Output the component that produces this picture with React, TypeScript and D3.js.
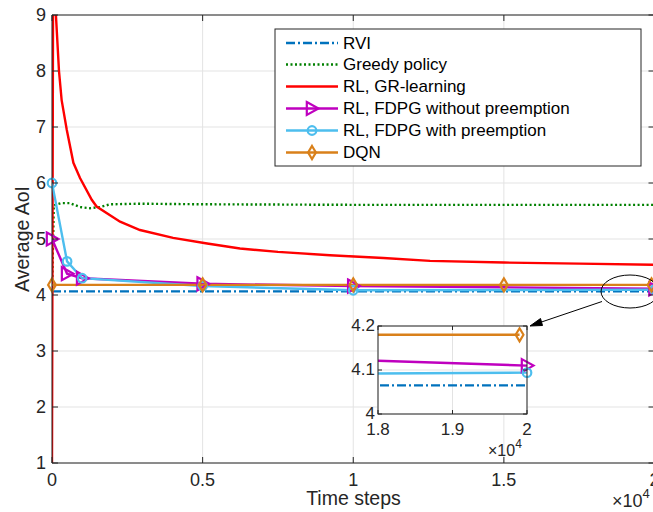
import React from "react";
import * as d3 from "d3";

// ---- data ----
const xTicks = [0, 5000, 10000, 15000, 20000];
const xTickLabels = ["0", "0.5", "1", "1.5", "2"];
const yTicks = [1, 2, 3, 4, 5, 6, 7, 8, 9];

const rviT = [0, 20000];
const rviV = [4.065, 4.065];

const greedyT = [0, 60, 300, 600, 930, 1260, 1600, 1930, 2920, 5000, 7500, 10000, 15000, 20000];
const greedyV = [4.0, 5.6, 5.64, 5.64, 5.57, 5.55, 5.57, 5.62, 5.63, 5.62, 5.615, 5.61, 5.61, 5.61];

const grT = [0, 40, 130, 232, 320, 490, 710, 930, 1320, 1480, 2260, 2920, 4020, 5150, 6240, 7500, 9230, 11000, 12550, 15000, 17500, 20000];
const grV = [1, 10.5, 9.0, 8.0, 7.48, 6.95, 6.36, 6.09, 5.7, 5.58, 5.31, 5.16, 5.02, 4.92, 4.83, 4.77, 4.71, 4.66, 4.61, 4.58, 4.56, 4.54];

const fdpgNoT = [0, 500, 1000, 5000, 10000, 15000, 20000];
const fdpgNoV = [5.0, 4.38, 4.3, 4.2, 4.16, 4.1375, 4.11];
const fdpgNoMarkers = [0, 500, 1000, 5000, 10000, 20000];

const fdpgPreT = [0, 500, 1000, 5000, 10000, 15000, 20000];
const fdpgPreV = [6.0, 4.6, 4.3, 4.16, 4.085, 4.089, 4.094];
const fdpgPreMarkers = [0, 500, 1000, 5000, 10000, 20000];

const dqnT = [0, 5000, 10000, 15000, 19900];
const dqnV = [4.18, 4.18, 4.18, 4.18, 4.18];

const insetXTicks = [18000, 19000, 20000];
const insetXTickLabels = ["1.8", "1.9", "2"];
const insetYTicks = [4, 4.1, 4.2];
const insetYTickLabels = ["4", "4.1", "4.2"];

const legendLabels = [
  "RVI",
  "Greedy policy",
  "RL, GR-learning",
  "RL, FDPG without preemption",
  "RL, FDPG with preemption",
  "DQN",
];

const C_RVI = "#0072BD";
const C_GREEDY = "#008000";
const C_GR = "#FF0000";
const C_NO = "#BF00BF";
const C_PRE = "#4DBEEE";
const C_DQN = "#D9801A";
const AX = "#262626";
const GRID = "#e3e3e3";
const FONT = "'Liberation Sans', Arial, Helvetica, sans-serif";
const LW = 2.4;

type Pt = [number, number];
const zip = (t: number[], v: number[]): Pt[] => t.map((x, i) => [x, v[i]]);

function Marker({ kind, x, y, color }: { kind: string; x: number; y: number; color: string }) {
  if (kind === "tri") {
    const s = 6.5;
    return (
      <path
        d={`M${x - s * 0.8},${y - s} L${x + s},${y} L${x - s * 0.8},${y + s} Z`}
        fill="none"
        stroke={color}
        strokeWidth={2.2}
      />
    );
  }
  if (kind === "circ") {
    return <circle cx={x} cy={y} r={4.3} fill="none" stroke={color} strokeWidth={2.2} />;
  }
  if (kind === "dia") {
    const s = 6.5;
    return (
      <path
        d={`M${x},${y - s} L${x + s * 0.6},${y} L${x},${y + s} L${x - s * 0.6},${y} Z`}
        fill="none"
        stroke={color}
        strokeWidth={2.2}
      />
    );
  }
  return null;
}

export default function App() {
  const W = 653, H = 512;
  const L = 52, R = 654.5, T = 15, B = 463;
  const x = d3.scaleLinear().domain([0, 20000]).range([L, R]);
  const y = d3.scaleLinear().domain([1, 9]).range([B, T]);

  const iL = 378, iR = 527, iT = 326, iB = 414;
  const xi = d3.scaleLinear().domain([18000, 20000]).range([iL, iR]);
  const yi = d3.scaleLinear().domain([4, 4.2]).range([iB, iT]);

  const mk = (sx: any, sy: any) => d3.line<Pt>().x((d) => sx(d[0])).y((d) => sy(d[1]));
  const lm = mk(x, y);
  const li = mk(xi, yi);

  const series = [
    { data: zip(rviT, rviV), color: C_RVI, dash: "9,3,2,3", marker: "", mpts: [] as number[] },
    { data: zip(greedyT, greedyV), color: C_GREEDY, dash: "2,2.5", marker: "", mpts: [] as number[] },
    { data: zip(grT, grV), color: C_GR, dash: "", marker: "", mpts: [] as number[] },
    { data: zip(fdpgNoT, fdpgNoV), color: C_NO, dash: "", marker: "tri", mpts: fdpgNoMarkers },
    { data: zip(fdpgPreT, fdpgPreV), color: C_PRE, dash: "", marker: "circ", mpts: fdpgPreMarkers },
    { data: zip(dqnT, dqnV), color: C_DQN, dash: "", marker: "dia", mpts: dqnT },
  ];

  const valAt = (data: Pt[], t: number) => {
    const ts = data.map((d) => d[0]);
    const vs = data.map((d) => d[1]);
    return d3.scaleLinear().domain(ts).range(vs)(t);
  };

  const legX0 = 275, legY0 = 29, legW = 366, legH = 137;
  const legRows = [43, 64.5, 86.5, 108.5, 130.5, 152.5];

  return (
    <svg
      width={W}
      height={H}
      style={{ position: "absolute", left: 0, top: 0, background: "#fff" }}
      fontFamily={FONT}
    >
      <defs>
        <clipPath id="mainclip">
          <rect x={L} y={T} width={R - L} height={B - T} />
        </clipPath>
        <clipPath id="insetclip">
          <rect x={iL} y={iT} width={iR - iL} height={iB - iT} />
        </clipPath>
      </defs>
      <rect x={0} y={0} width={W} height={H} fill="#fff" />

      {/* grid */}
      {xTicks.map((t) => (
        <line key={"gx" + t} x1={x(t)} x2={x(t)} y1={T} y2={B} stroke={GRID} strokeWidth={1} />
      ))}
      {yTicks.map((t) => (
        <line key={"gy" + t} x1={L} x2={R} y1={y(t)} y2={y(t)} stroke={GRID} strokeWidth={1} />
      ))}

      {/* series */}
      <g clipPath="url(#mainclip)">
        {series.map((s, i) => (
          <path
            key={"s" + i}
            d={lm(s.data) || ""}
            fill="none"
            stroke={s.color}
            strokeWidth={LW}
            strokeDasharray={s.dash || undefined}
          />
        ))}
      </g>
      {series.map((s, i) =>
        s.mpts.map((t) => (
          <Marker key={"m" + i + "_" + t} kind={s.marker} x={x(t)} y={y(valAt(s.data, t))} color={s.color} />
        ))
      )}

      {/* axes box */}
      <line x1={L} x2={R} y1={B} y2={B} stroke={AX} strokeWidth={1} />
      <line x1={L} x2={R} y1={T} y2={T} stroke={AX} strokeWidth={1} />
      <line x1={L} x2={L} y1={T} y2={B} stroke={AX} strokeWidth={1} />
      <line x1={R} x2={R} y1={T} y2={B} stroke={AX} strokeWidth={1} />
      {xTicks.map((t) => (
        <g key={"tx" + t}>
          <line x1={x(t)} x2={x(t)} y1={B} y2={B - 6} stroke={AX} />
          <line x1={x(t)} x2={x(t)} y1={T} y2={T + 6} stroke={AX} />
        </g>
      ))}
      {yTicks.map((t) => (
        <g key={"ty" + t}>
          <line x1={L} x2={L + 6} y1={y(t)} y2={y(t)} stroke={AX} />
          <line x1={R} x2={R - 6} y1={y(t)} y2={y(t)} stroke={AX} />
        </g>
      ))}
      {xTicks.map((t, i) => (
        <text key={"lx" + t} x={x(t)} y={485.5} textAnchor="middle" fontSize={18} fill={AX}>
          {xTickLabels[i]}
        </text>
      ))}
      {yTicks.map((t) => (
        <text key={"ly" + t} x={46} y={y(t)} dy="0.35em" textAnchor="end" fontSize={18} fill={AX}>
          {t}
        </text>
      ))}
      <text x={612} y={507} fontSize={18} fill={AX}>
        ×10
        <tspan dy={-9} fontSize={13}>4</tspan>
      </text>
      <text x={353.5} y={505} textAnchor="middle" fontSize={19.5} fill={AX}>
        Time steps
      </text>
      <text
        transform={`translate(29,${(T + B) / 2}) rotate(-90)`}
        textAnchor="middle"
        fontSize={19.5}
        fill={AX}
      >
        Average AoI
      </text>

      {/* ellipse & arrow */}
      <ellipse cx={630} cy={291.5} rx={29} ry={16.5} fill="none" stroke="#000" strokeWidth={1} />
      <line x1={602} y1={301.5} x2={540} y2={322.5} stroke="#000" strokeWidth={1} />
      <path d="M530,326 L540.5,318.5 L542.5,325.5 Z" fill="#000" stroke="#000" strokeWidth={1} />

      {/* inset */}
      <rect x={iL} y={iT} width={iR - iL} height={iB - iT} fill="#fff" />
      {insetXTicks.map((t) => (
        <line key={"igx" + t} x1={xi(t)} x2={xi(t)} y1={iT} y2={iB} stroke={GRID} />
      ))}
      {insetYTicks.map((t) => (
        <line key={"igy" + t} x1={iL} x2={iR} y1={yi(t)} y2={yi(t)} stroke={GRID} />
      ))}
      <g clipPath="url(#insetclip)">
        {series.map((s, i) => (
          <path
            key={"is" + i}
            d={li(s.data) || ""}
            fill="none"
            stroke={s.color}
            strokeWidth={LW}
            strokeDasharray={s.dash || undefined}
          />
        ))}
      </g>
      {series.map((s, i) =>
        s.mpts
          .filter((t) => t >= 18000)
          .map((t) => (
            <Marker key={"im" + i + "_" + t} kind={s.marker} x={xi(t)} y={yi(valAt(s.data, t))} color={s.color} />
          ))
      )}
      <rect x={iL} y={iT} width={iR - iL} height={iB - iT} fill="none" stroke={AX} strokeWidth={1} />
      {insetXTicks.map((t) => (
        <g key={"itx" + t}>
          <line x1={xi(t)} x2={xi(t)} y1={iB} y2={iB - 4} stroke={AX} />
          <line x1={xi(t)} x2={xi(t)} y1={iT} y2={iT + 4} stroke={AX} />
        </g>
      ))}
      {insetYTicks.map((t) => (
        <g key={"ity" + t}>
          <line x1={iL} x2={iL + 4} y1={yi(t)} y2={yi(t)} stroke={AX} />
          <line x1={iR} x2={iR - 4} y1={yi(t)} y2={yi(t)} stroke={AX} />
        </g>
      ))}
      {insetXTicks.map((t, i) => (
        <text key={"ilx" + t} x={xi(t)} y={435} textAnchor="middle" fontSize={17} fill={AX}>
          {insetXTickLabels[i]}
        </text>
      ))}
      {insetYTicks.map((t, i) => (
        <text key={"ily" + t} x={375} y={yi(t)} dy="0.3em" textAnchor="end" fontSize={17} fill={AX}>
          {insetYTickLabels[i]}
        </text>
      ))}
      <text x={488} y={456} fontSize={16} fill={AX}>
        ×10
        <tspan dy={-8} fontSize={12}>4</tspan>
      </text>

      {/* legend */}
      <rect x={legX0} y={legY0} width={legW} height={legH} fill="#fff" stroke={AX} strokeWidth={1} />
      {series.map((s, i) => (
        <g key={"lg" + i}>
          <line
            x1={286}
            x2={338}
            y1={legRows[i]}
            y2={legRows[i]}
            stroke={s.color}
            strokeWidth={LW}
            strokeDasharray={s.dash || undefined}
          />
          {s.marker && <Marker kind={s.marker} x={312} y={legRows[i]} color={s.color} />}
          <text x={343} y={legRows[i]} dy="0.35em" fontSize={17} fill="#000">
            {legendLabels[i]}
          </text>
        </g>
      ))}
    </svg>
  );
}
